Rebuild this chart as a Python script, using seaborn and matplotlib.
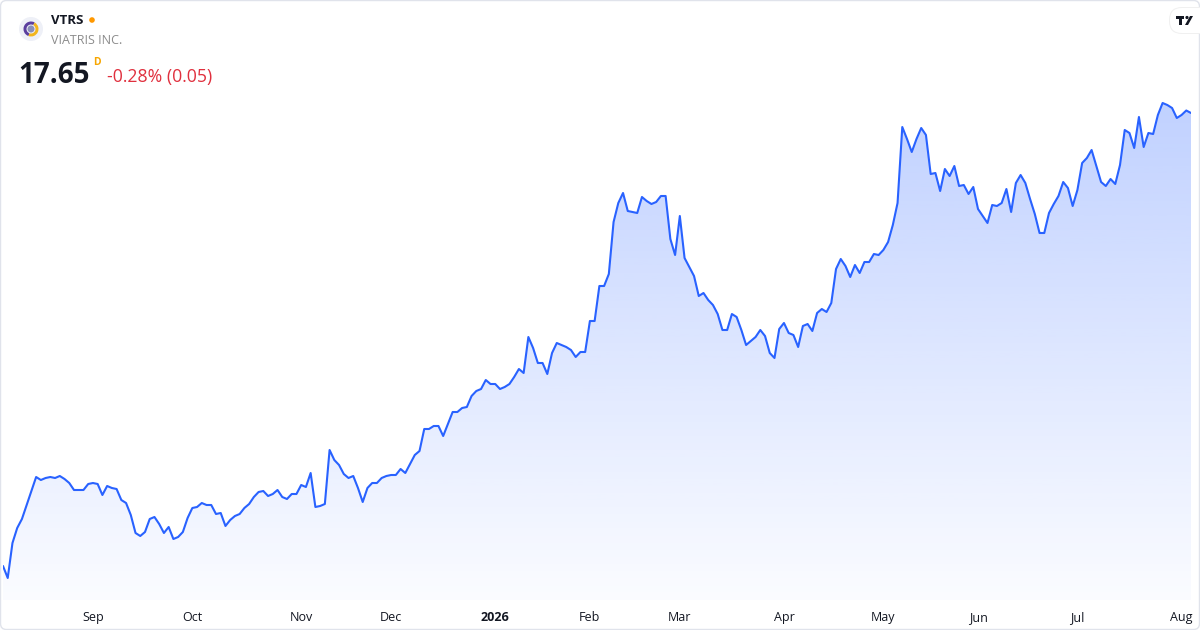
import numpy as np
import pandas as pd
import matplotlib
matplotlib.use("Agg")
import matplotlib.pyplot as plt
import seaborn as sns
from matplotlib.patches import FancyBboxPatch, Circle, Wedge, Polygon

# header texts
ticker = "VTRS"
company = "VIATRIS INC."
last_price = "17.65"
change_text = "-0.28% (0.05)"

# x axis labels (one per month start)
month_labels = ["Sep", "Oct", "Nov", "Dec", "2026", "Feb", "Mar", "Apr", "May", "Jun", "Jul", "Aug"]

# exchange holidays so the trading-day index matches the month ticks
market_holidays = ["2025-09-01", "2025-11-27", "2025-12-25", "2026-01-01", "2026-01-19",
                   "2026-02-16", "2026-04-03", "2026-05-25", "2026-06-19", "2026-07-03"]

# daily close
prices = [
    8.59, 8.35, 9.05, 9.35, 9.53, 9.81, 10.09, 10.37, 10.31, 10.35,
    10.37, 10.35, 10.39, 10.33, 10.25, 10.11, 10.11, 10.11, 10.23, 10.25,
    10.23, 10.01, 10.19, 10.15, 10.13, 9.91, 9.85, 9.61, 9.25, 9.19,
    9.27, 9.53, 9.57, 9.43, 9.25, 9.37, 9.13, 9.17, 9.27, 9.55,
    9.75, 9.77, 9.85, 9.81, 9.81, 9.63, 9.65, 9.39, 9.51, 9.59,
    9.63, 9.75, 9.83, 9.97, 10.07, 10.09, 9.99, 10.03, 10.11, 9.97,
    9.93, 10.03, 10.03, 10.21, 10.17, 10.45, 9.77, 9.79, 9.83, 10.91,
    10.71, 10.61, 10.43, 10.35, 10.39, 10.15, 9.87, 10.15, 10.25, 10.25,
    10.35, 10.39, 10.41, 10.41, 10.53, 10.45, 10.63, 10.81, 10.89, 11.33,
    11.33, 11.39, 11.39, 11.19, 11.43, 11.67, 11.67, 11.75, 11.77, 11.99,
    12.09, 12.13, 12.31, 12.23, 12.23, 12.13, 12.17, 12.23, 12.37, 12.53,
    12.45, 13.17, 12.95, 12.65, 12.65, 12.43, 12.85, 13.05, 13.01, 12.97,
    12.91, 12.77, 12.87, 12.87, 13.49, 13.49, 14.19, 14.19, 14.43, 15.47,
    15.85, 16.05, 15.69, 15.67, 15.65, 15.97, 15.89, 15.83, 15.87, 15.99,
    15.99, 15.13, 14.81, 15.59, 14.75, 14.57, 14.39, 13.99, 14.05, 13.91,
    13.81, 13.63, 13.31, 13.31, 13.63, 13.57, 13.31, 13.01, 13.09, 13.17,
    13.31, 13.19, 12.85, 12.75, 13.33, 13.45, 13.25, 13.21, 12.97, 13.39,
    13.43, 13.29, 13.65, 13.73, 13.67, 13.85, 14.53, 14.73, 14.59, 14.37,
    14.61, 14.45, 14.67, 14.67, 14.83, 14.81, 14.91, 15.07, 15.41, 15.85,
    17.37, 17.13, 16.87, 17.13, 17.35, 17.21, 16.43, 16.45, 16.09, 16.53,
    16.39, 16.59, 16.19, 16.21, 16.03, 16.17, 15.73, 15.59, 15.45, 15.81,
    15.79, 15.85, 16.13, 15.67, 16.25, 16.41, 16.25, 15.93, 15.63, 15.25,
    15.25, 15.65, 15.83, 15.99, 16.27, 16.15, 15.79, 16.11, 16.65, 16.75,
    16.91, 16.59, 16.27, 16.19, 16.33, 16.23, 16.61, 17.31, 17.25, 16.95,
    17.57, 16.97, 17.25, 17.23, 17.61, 17.85, 17.81, 17.75, 17.55, 17.61,
    17.70, 17.65,
]

trade_days = pd.bdate_range("2025-08-05", periods=len(prices), freq="C", holidays=market_holidays)
df = pd.DataFrame({"idx": np.arange(len(prices)), "date": trade_days, "price": prices})
new_month = df["date"].dt.month != df["date"].dt.month.shift()
month_pos = df.loc[new_month, "idx"].tolist()[1:]

sns.set_style("white")
plt.rcParams["font.family"] = ["Open Sans", "DejaVu Sans"]

line_color = "#2962FF"
y_lo, y_hi = 7.91, 18.11

fig = plt.figure(figsize=(12, 6.3), dpi=100)
fig.patch.set_facecolor("white")
ax = fig.add_axes([3 / 1200, 30 / 630, 1188 / 1200, 510 / 630])
ax.set_facecolor("none")

sns.lineplot(data=df, x="idx", y="price", color=line_color, linewidth=1.5, ax=ax, zorder=3)
ax.set_xlim(0, len(prices) - 1)
ax.set_ylim(y_lo, y_hi)

# gradient area under the line
n = len(prices)
verts = list(zip(df["idx"], df["price"])) + [(n - 1, y_lo), (0, y_lo)]
clip = Polygon(verts, closed=True, facecolor="none", edgecolor="none", transform=ax.transData)
ax.add_patch(clip)
alpha = np.linspace(0.30, 0.02, 256)
grad = np.zeros((256, 1, 4))
grad[:, 0, 0] = 41 / 255
grad[:, 0, 1] = 98 / 255
grad[:, 0, 2] = 1.0
grad[:, 0, 3] = alpha
im = ax.imshow(grad, extent=[0, n - 1, y_lo, y_hi], origin="upper", aspect="auto", zorder=1)
im.set_clip_path(clip)

ax.set_xticks(month_pos)
ax.set_xticklabels(month_labels)
ax.set_yticks([])
ax.set_xlabel("")
ax.set_ylabel("")
ax.tick_params(axis="x", length=0, pad=8, labelsize=9, labelcolor="#131722")
ax.get_xticklabels()[4].set_fontweight("bold")
sns.despine(ax=ax, left=True, bottom=True)

# overlay in pixel units for header, logo and frame
ov = fig.add_axes([0, 0, 1, 1])
ov.set_xlim(0, 1200)
ov.set_ylim(630, 0)
ov.axis("off")
ov.set_facecolor("none")

ov.add_patch(FancyBboxPatch((0.5, 0.5), 1199, 629, boxstyle="round,pad=0,rounding_size=6",
                            fc="none", ec="#e0e3eb", lw=1))

# company logo
ov.add_patch(Circle((31, 29), 12, fc="#eef0f7", ec="none"))
ov.add_patch(Wedge((31, 29), 7.5, 110, 300, width=3, fc="#5b3f9e", ec="none"))
ov.add_patch(Wedge((31, 29), 7.5, 300, 110, width=3, fc="#f2b51c", ec="none"))
ov.add_patch(Circle((31, 29), 3.5, fc="#8a8fb8", ec="none"))

ov.text(51, 20, ticker, fontsize=9.5, fontweight="bold", color="#131722", va="center", ha="left")
ov.add_patch(Circle((92, 20), 2.8, fc="#ff9800", ec="none"))
ov.text(51, 40, company, fontsize=9, color="#8c8c8c", va="center", ha="left")
ov.text(18, 83, last_price, fontsize=20, fontweight="bold", color="#131722", va="baseline", ha="left")
ov.text(93, 65, "D", fontsize=7.5, fontweight="bold", color="#f7a600", va="baseline", ha="left")
ov.text(107, 82, change_text, fontsize=12.7, color="#e0303e", va="baseline", ha="left")

# TradingView badge
ov.add_patch(FancyBboxPatch((1169, 7), 45, 27, boxstyle="round,pad=0,rounding_size=13",
                            fc="#f0f0f0", ec="none"))
ov.add_patch(FancyBboxPatch((1170, 8), 45, 25, boxstyle="round,pad=0,rounding_size=12",
                            fc="white", ec="none"))
ov.add_patch(Polygon([(1176, 16), (1184, 16), (1184, 19), (1182, 19), (1182, 25),
                      (1179, 25), (1179, 19), (1176, 19)], closed=True, fc="#131722", ec="none"))
ov.add_patch(Circle((1187, 17.5), 1.6, fc="#131722", ec="none"))
ov.add_patch(Polygon([(1185, 25), (1190, 16), (1193, 16), (1188, 25)], closed=True,
                     fc="#131722", ec="none"))

fig.savefig("out.png", dpi=100)
